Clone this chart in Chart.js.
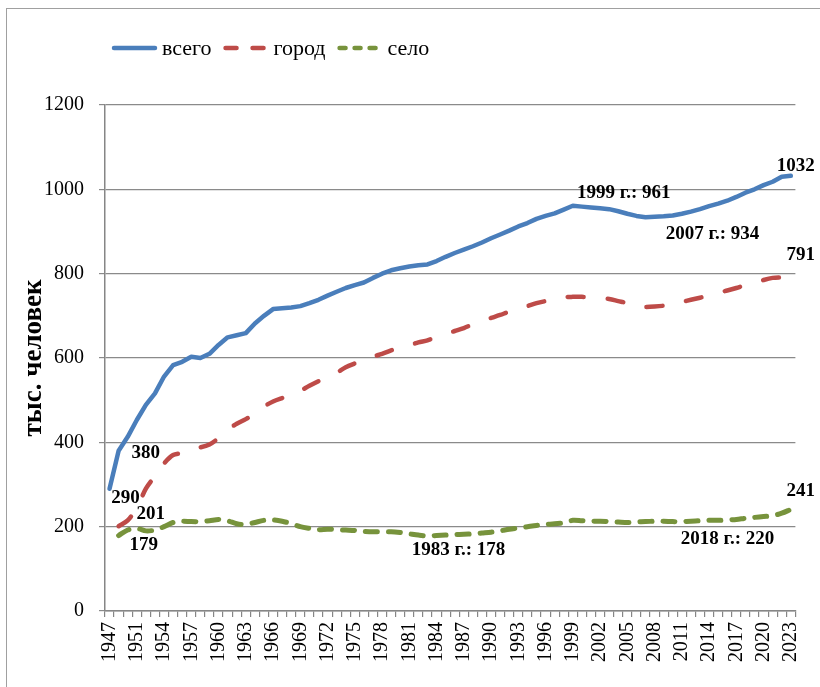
<!DOCTYPE html>
<html lang="ru">
<head>
<meta charset="utf-8">
<title>Численность населения</title>
<script src="https://cdn.jsdelivr.net/npm/chart.js@4.4.1/dist/chart.umd.min.js"></script>
<style>
html, body { margin: 0; padding: 0; background: #fff; overflow: hidden; }
#wrap { position: relative; width: 820px; height: 687px; }
</style>
</head>
<body>
<div id="wrap"><canvas id="grafico"></canvas></div>
<script>
// годы (1948 в ряду нет)
const anios = [1947, 1949, 1950, 1951, 1952, 1953, 1954, 1955, 1956, 1957, 1958, 1959,
  1960, 1961, 1962, 1963, 1964, 1965, 1966, 1967, 1968, 1969,
  1970, 1971, 1972, 1973, 1974, 1975, 1976, 1977, 1978, 1979,
  1980, 1981, 1982, 1983, 1984, 1985, 1986, 1987, 1988, 1989,
  1990, 1991, 1992, 1993, 1994, 1995, 1996, 1997, 1998, 1999,
  2000, 2001, 2002, 2003, 2004, 2005, 2006, 2007, 2008, 2009,
  2010, 2011, 2012, 2013, 2014, 2015, 2016, 2017, 2018, 2019,
  2020, 2021, 2022, 2023];

const vsego = [290, 380, 413, 453, 489, 516, 556, 583, 591, 603, 600, 610,
  631, 649, 654, 659, 682, 700, 716, 718, 720, 723,
  730, 738, 748, 757, 766, 773, 779, 790, 800, 808,
  813, 817, 820, 822, 830, 840, 849, 857, 865, 874,
  884, 893, 902, 912, 920, 930, 937, 943, 952, 961,
  959, 957, 955, 953, 948, 942, 937, 934, 935, 936,
  938, 942, 947, 953, 960, 966, 973, 982, 992, 1000,
  1010, 1018, 1030, 1032];

const gorod = [null, 201, 215, 245, 290, 320, 350, 370, 375, 385, 388, 395,
  410, 430, 444, 455, 468, 485, 497, 505, 512, 522,
  534, 545, 555, 565, 578, 587, 595, 603, 610, 618,
  625, 630, 637, 642, 650, 657, 664, 671, 680, 688,
  695, 702, 710, 716, 723, 730, 735, 739, 744, 745,
  745, 744, 742, 740, 735, 730, 722, 721, 722, 724,
  728, 733, 738, 743, 748, 755, 760, 766, 773, 778,
  785, 790, 791, 791];

const selo = [null, 179, 192, 196, 190, 192, 200, 210, 213, 212, 212, 214,
  217, 214, 207, 205, 210, 215, 216, 213, 207, 200,
  196, 193, 194, 193, 192, 191, 189, 188, 188, 188,
  186, 183, 180, 178, 179, 180, 181, 182, 183, 185,
  187, 190, 194, 197, 200, 203, 205, 207, 209, 215,
  214, 213, 213, 212, 211, 210, 211, 212, 213, 213,
  212, 212, 213, 214, 215, 215, 216, 217, 220, 222,
  224, 226, 232, 241];

const marcasY = [0, 200, 400, 600, 800, 1000, 1200];

// подписи точек: серия, индекс, смещение, с годом или без
const notas = [
  { ds: 0, i: 0, dx: 16, dy: 9, anio: false },
  { ds: 0, i: 1, dx: 27, dy: 2, anio: false },
  { ds: 0, i: 51, dx: 51, dy: -13, anio: true },
  { ds: 0, i: 59, dx: 67, dy: 17, anio: true },
  { ds: 0, i: 75, dx: 5, dy: -10, anio: false },
  { ds: 1, i: 1, dx: 32, dy: -12, anio: false },
  { ds: 1, i: 75, dx: 10, dy: -22, anio: false },
  { ds: 2, i: 1, dx: 25, dy: 10, anio: false },
  { ds: 2, i: 35, dx: 31, dy: 14, anio: true },
  { ds: 2, i: 70, dx: -18, dy: 21, anio: true },
  { ds: 2, i: 75, dx: 10, dy: -18, anio: false }
];

const fuente = '"Liberation Serif", "Times New Roman", serif';
const dashLeyenda = [[], [11, 16], [6, 9]];

const marco = {
  id: 'marco',
  beforeDraw(chart) {
    const ctx = chart.ctx;
    ctx.save();
    ctx.strokeStyle = '#a0a0a0';
    ctx.lineWidth = 1;
    ctx.strokeRect(6.5, 8.5, 1000, 1000);
    ctx.restore();
  }
};

const etiquetas = {
  id: 'etiquetas',
  afterDatasetsDraw(chart) {
    const ctx = chart.ctx;
    ctx.save();
    ctx.font = 'bold 19px ' + fuente;
    ctx.fillStyle = '#000';
    ctx.textAlign = 'center';
    ctx.textBaseline = 'middle';
    notas.forEach(n => {
      const el = chart.getDatasetMeta(n.ds).data[n.i];
      const v = chart.data.datasets[n.ds].data[n.i];
      const txt = n.anio ? anios[n.i] + ' г.: ' + v : String(v);
      ctx.fillText(txt, el.x + n.dx, el.y + n.dy);
    });
    ctx.restore();
  }
};

const leyenda = {
  id: 'leyenda',
  afterDraw(chart) {
    const ctx = chart.ctx;
    let x = 112;
    const y = 48;
    ctx.save();
    ctx.font = '22px ' + fuente;
    ctx.textBaseline = 'middle';
    chart.data.datasets.forEach((ds, i) => {
      ctx.beginPath();
      ctx.strokeStyle = ds.borderColor;
      ctx.lineWidth = 4.5;
      ctx.lineCap = 'round';
      ctx.setLineDash(dashLeyenda[i]);
      ctx.moveTo(x + 2, y);
      ctx.lineTo(x + 43, y);
      ctx.stroke();
      ctx.setLineDash([]);
      ctx.fillStyle = '#000';
      ctx.fillText(ds.label, x + 50, y + 1);
      x += 50 + ctx.measureText(ds.label).width + 12;
    });
    ctx.restore();
  }
};

const grafico = new Chart(document.getElementById('grafico').getContext('2d'), {
  type: 'line',
  data: {
    labels: anios,
    datasets: [{
      label: 'всего',
      data: vsego,
      borderColor: '#4A7EBB',
      borderWidth: 4.5,
      borderCapStyle: 'round',
      borderJoinStyle: 'round',
      pointRadius: 0,
      tension: 0
    }, {
      label: 'город',
      data: gorod,
      borderColor: '#BE4B48',
      borderWidth: 4.5,
      borderDash: [16, 24],
      borderCapStyle: 'round',
      pointRadius: 0,
      tension: 0.3
    }, {
      label: 'село',
      data: selo,
      borderColor: '#77933C',
      borderWidth: 5,
      borderDash: [12, 11],
      borderCapStyle: 'round',
      pointRadius: 0,
      tension: 0.3
    }]
  },
  options: {
    responsive: true,
    maintainAspectRatio: false,
    devicePixelRatio: 1,
    animation: false,
    layout: { padding: { top: 105, left: 6, right: 23, bottom: 0 } },
    plugins: {
      legend: { display: false },
      tooltip: { enabled: false }
    },
    scales: {
      x: {
        type: 'category',
        offset: true,
        afterFit(scale) { scale.height = 76; },
        grid: { offset: true, drawOnChartArea: false, drawTicks: true, tickLength: 6, color: '#868686', lineWidth: 1.2 },
        border: { color: '#868686', width: 1.5 },
        ticks: {
          autoSkip: false,
          minRotation: 90,
          maxRotation: 90,
          padding: 5,
          color: '#000',
          font: { family: fuente, size: 20 },
          callback: function (value, index) {
            return index % 3 === 0 ? this.getLabelForValue(value) : '';
          }
        }
      },
      y: {
        min: 0,
        max: 1200,
        afterFit(scale) { scale.width = 99; },
        afterBuildTicks(scale) { scale.ticks = marcasY.map(v => ({ value: v })); },
        grid: { color: '#8a8a8a', lineWidth: 1.2, tickLength: 6, drawTicks: true },
        border: { color: '#868686', width: 1.5 },
        title: {
          display: true,
          text: 'тыс. человек',
          color: '#000',
          font: { family: fuente, size: 27, weight: 'bold' },
          padding: { top: 12, bottom: 0 }
        },
        ticks: {
          padding: 15,
          color: '#000',
          font: { family: fuente, size: 20 },
          callback: v => String(v)
        }
      }
    }
  },
  plugins: [marco, etiquetas, leyenda]
});
</script>
</body>
</html>
